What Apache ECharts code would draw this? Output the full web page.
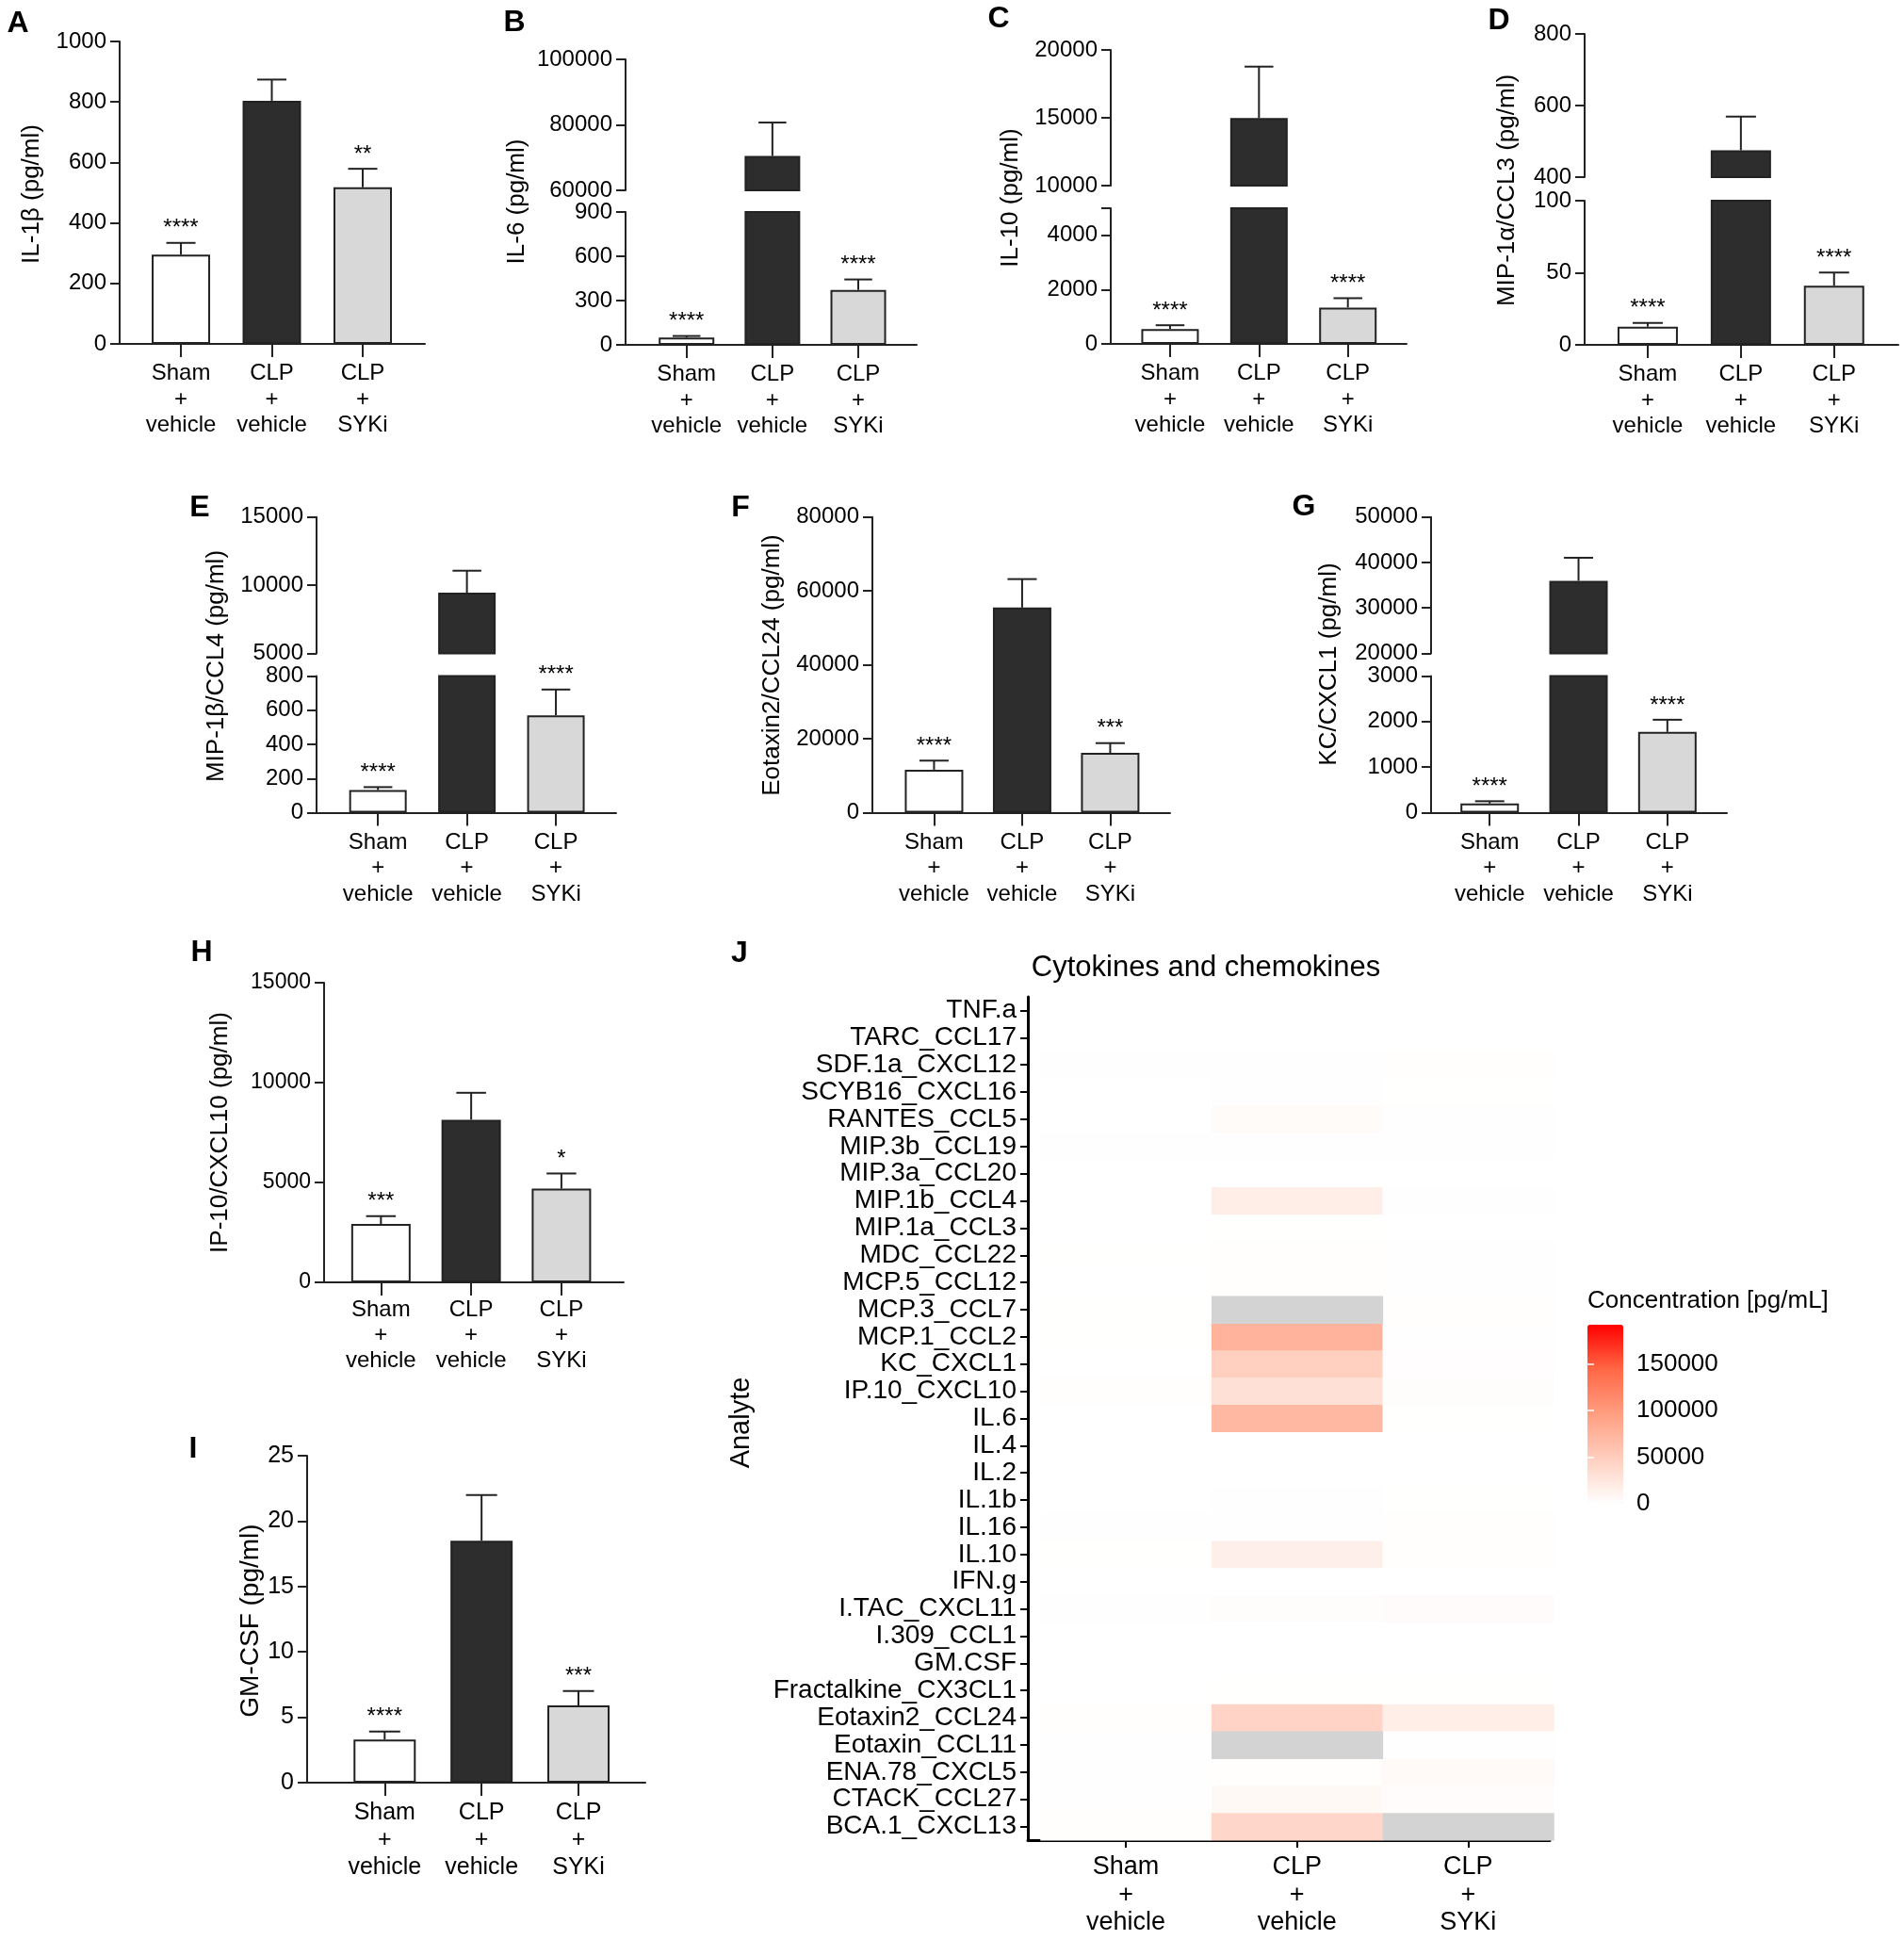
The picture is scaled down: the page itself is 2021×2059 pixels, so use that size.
<!DOCTYPE html>
<html><head><meta charset="utf-8">
<script src="https://cdn.jsdelivr.net/npm/echarts@6/dist/echarts.min.js"></script>
<style>html,body{margin:0;padding:0;background:#fff}#c{width:2021px;height:2059px}</style>
</head><body><div id="c"></div>
<script>
// ---------------- DATA ----------------
const groups = ['Sham\n+\nvehicle', 'CLP\n+\nvehicle', 'CLP\n+\nSYKi'];

// bar panels: mean, mean+SEM (upper whisker end), significance
const il1bMean = [295, 804, 518];      const il1bUpper = [334, 874, 579];      const il1bSig = ['****', '', '**'];
const il6Mean = [49, 70500, 372];      const il6Upper = [60, 80700, 443];      const il6Sig = ['****', '', '****'];
const il10Mean = [550, 14980, 1340];   const il10Upper = [688, 18770, 1685];   const il10Sig = ['****', '', '****'];
const ccl3Mean = [12.6, 475, 41];      const ccl3Upper = [15.2, 569, 50.2];    const ccl3Sig = ['****', '', '****'];
const ccl4Mean = [133, 9450, 570];     const ccl4Upper = [150, 11060, 721];    const ccl4Sig = ['****', '', '****'];
const ccl24Mean = [11650, 55500, 16200]; const ccl24Upper = [14100, 63200, 18830]; const ccl24Sig = ['****', '', '***'];
const cxcl1Mean = [205, 35960, 1774];  const cxcl1Upper = [253, 41030, 2041];  const cxcl1Sig = ['****', '', '****'];
const cxcl10Mean = [2920, 8140, 4690]; const cxcl10Upper = [3315, 9490, 5450]; const cxcl10Sig = ['***', '', '*'];
const gmcsfMean = [3.3, 18.5, 5.9];    const gmcsfUpper = [3.9, 22.0, 7.0];    const gmcsfSig = ['****', '', '***'];

// heatmap (top to bottom), null = not available (grey)
const analytes = ['TNF.a', 'TARC_CCL17', 'SDF.1a_CXCL12', 'SCYB16_CXCL16', 'RANTES_CCL5', 'MIP.3b_CCL19',
  'MIP.3a_CCL20', 'MIP.1b_CCL4', 'MIP.1a_CCL3', 'MDC_CCL22', 'MCP.5_CCL12', 'MCP.3_CCL7', 'MCP.1_CCL2',
  'KC_CXCL1', 'IP.10_CXCL10', 'IL.6', 'IL.4', 'IL.2', 'IL.1b', 'IL.16', 'IL.10', 'IFN.g', 'I.TAC_CXCL11',
  'I.309_CCL1', 'GM.CSF', 'Fractalkine_CX3CL1', 'Eotaxin2_CCL24', 'Eotaxin_CCL11', 'ENA.78_CXCL5',
  'CTACK_CCL27', 'BCA.1_CXCL13'];
const hmSham = [50, 100, 600, 300, 300, 900, 50, 150, 20, 400, 300, 400, 500, 200, 1200, 50, 20, 20, 300, 600,
  500, 20, 800, 200, 5, 300, 1500, 700, 900, 900, 1200];
const hmClp = [300, 200, 700, 600, 4500, 900, 300, 17000, 500, 1500, 1500, null, 75000, 47000, 31000, 71000, 50, 50,
  800, 800, 16000, 100, 2000, 300, 20, 500, 43000, null, 1500, 6500, 40000];
const hmSyki = [80, 150, 1200, 500, 600, 1000, 100, 600, 40, 600, 700, 1500, 700, 1800, 2500, 400, 20, 20, 500,
  1200, 1300, 30, 4000, 250, 6, 400, 17000, 700, 6000, 3000, null];
const legendBreaks = [0, 50000, 100000, 150000];
const legendMax = 192000;

// ---------------- BUILD ----------------
const FONT = '"Liberation Sans", Arial, Helvetica, sans-serif';
const INK = '#222222';
const barFill = ['#ffffff', '#2d2d2d', '#d8d8d8'];
const plain = function (v) { return String(v); };
const groupIdx = groups.map(function (g, i) { return i; });
const analyteIdx = analytes.map(function (a, i) { return i; });
const grid = [], xAxis = [], yAxis = [], series = [], graphic = [];

function txt(text, x, y, size, opts) {
  opts = opts || {};
  graphic.push({
    type: 'text', x: x, y: y, rotation: opts.rot || 0, silent: true,
    style: { text: text, fontFamily: FONT, fontSize: size, fontWeight: opts.bold ? 'bold' : 'normal',
      fill: '#000', align: opts.align || 'center', verticalAlign: 'middle' }
  });
}

function addBarPanel(p) {
  txt(p.letter, p.letterPos[0], p.letterPos[1], 32, { bold: true });
  txt(p.title, p.titlePos[0], p.titlePos[1], p.titleSize, { rot: Math.PI / 2 });
  p.segs.forEach(function (s, si) {
    const gi = grid.length;
    grid.push({ left: p.left, top: s.top, width: p.right - p.left, height: s.bottom - s.top });
    xAxis.push({
      type: 'value', gridIndex: gi, min: -p.pad[0], max: groups.length - 1 + p.pad[1], show: si === 0,
      axisLine: { onZero: false, lineStyle: { color: INK, width: 2 } },
      axisTick: { length: 14, customValues: groupIdx, lineStyle: { color: INK, width: 2 } },
      axisLabel: { customValues: groupIdx, formatter: function (v) { return groups[v]; },
        color: '#000', fontFamily: FONT, fontSize: p.catFont, lineHeight: p.catLine, margin: p.catMargin },
      splitLine: { show: false }
    });
    const ya = {
      type: 'value', gridIndex: gi, min: s.min, max: s.max, interval: s.interval,
      axisLine: { show: true, onZero: false, lineStyle: { color: INK, width: 2 } },
      axisTick: { show: true, length: 10, lineStyle: { color: INK, width: 2 } },
      axisLabel: { color: '#000', fontFamily: FONT, fontSize: p.tickFont, margin: 14, formatter: plain },
      splitLine: { show: false }
    };
    if (s.ticks) ya.axisTick.customValues = s.ticks;
    if (s.labels) ya.axisLabel.customValues = s.labels;
    yAxis.push(ya);

    const barData = [];
    p.mean.forEach(function (v, i) {
      if (si > 0 && v <= s.min) return;
      barData.push({ value: [i, v], itemStyle: { color: barFill[i] } });
    });
    series.push({
      type: 'bar', xAxisIndex: gi, yAxisIndex: gi, data: barData, barWidth: p.barWidth, clip: true,
      silent: true, itemStyle: { borderColor: INK, borderWidth: 2 }
    });
    const errData = [];
    p.mean.forEach(function (v, i) {
      if (v >= s.min && v <= s.max) errData.push([i, v, p.upper[i]]);
    });
    const cap = p.barWidth * 0.5;
    const sig = p.sig;
    series.push({
      type: 'custom', xAxisIndex: gi, yAxisIndex: gi, data: errData, silent: true,
      encode: { x: 0, y: 1 },
      renderItem: function (params, api) {
        const idx = api.value(0);
        const p0 = api.coord([idx, api.value(1)]);
        const p1 = api.coord([idx, api.value(2)]);
        const children = [
          { type: 'line', shape: { x1: p0[0], y1: p0[1], x2: p1[0], y2: p1[1] }, style: { stroke: INK, lineWidth: 2 } },
          { type: 'line', shape: { x1: p1[0] - cap / 2, y1: p1[1], x2: p1[0] + cap / 2, y2: p1[1] }, style: { stroke: INK, lineWidth: 2 } }
        ];
        if (sig[idx]) {
          children.push({ type: 'text', x: p1[0], y: p1[1] - 15,
            style: { text: sig[idx], fontFamily: FONT, fontSize: 24, fill: '#000', align: 'center', verticalAlign: 'middle' } });
        }
        return { type: 'group', children: children };
      }
    });
  });
}

const std = { tickFont: 24, catFont: 24, catLine: 27.5, catMargin: 18, titleSize: 26 };
function P(o) { return Object.assign({}, std, o); }

addBarPanel(P({ letter: 'A', letterPos: [19, 25], title: 'IL-1β (pg/ml)', titlePos: [34, 206], left: 127, right: 451, pad: [0.674, 0.684], barWidth: 62,
  segs: [{ top: 44, bottom: 365, min: 0, max: 1000, interval: 200 }], mean: il1bMean, upper: il1bUpper, sig: il1bSig }));
addBarPanel(P({ letter: 'B', letterPos: [546, 24], title: 'IL-6 (pg/ml)', titlePos: [549, 214], left: 664, right: 973, pad: [0.71, 0.68], barWidth: 59,
  segs: [{ top: 225, bottom: 366, min: 0, max: 900, interval: 300 }, { top: 63, bottom: 202, min: 60000, max: 100000, interval: 20000 }],
  mean: il6Mean, upper: il6Upper, sig: il6Sig }));
addBarPanel(P({ letter: 'C', letterPos: [1060, 20], title: 'IL-10 (pg/ml)', titlePos: [1073, 210], left: 1179, right: 1493, pad: [0.667, 0.66], barWidth: 61,
  segs: [{ top: 221, bottom: 365, min: 0, max: 5000, interval: 1000, ticks: [0, 2000, 4000, 5000], labels: [0, 2000, 4000] },
         { top: 53, bottom: 197, min: 10000, max: 20000, interval: 5000 }],
  mean: il10Mean, upper: il10Upper, sig: il10Sig }));
addBarPanel(P({ letter: 'D', letterPos: [1591, 22], title: 'MIP-1α/CCL3 (pg/ml)', titlePos: [1600, 202], left: 1682, right: 2015, pad: [0.677, 0.69], barWidth: 64,
  segs: [{ top: 213, bottom: 366, min: 0, max: 100, interval: 50 }, { top: 36, bottom: 188, min: 400, max: 800, interval: 200 }],
  mean: ccl3Mean, upper: ccl3Upper, sig: ccl3Sig }));
addBarPanel(P({ letter: 'E', letterPos: [212, 539], title: 'MIP-1β/CCL4 (pg/ml)', titlePos: [230, 707], left: 336, right: 654, pad: [0.69, 0.677], barWidth: 61,
  segs: [{ top: 717.5, bottom: 862.6, min: 0, max: 800, interval: 200 }, { top: 548.7, bottom: 693.4, min: 5000, max: 15000, interval: 5000 }],
  mean: ccl4Mean, upper: ccl4Upper, sig: ccl4Sig }));
addBarPanel(P({ letter: 'F', letterPos: [786, 539], title: 'Eotaxin2/CCL24 (pg/ml)', titlePos: [820, 706], left: 926, right: 1242, pad: [0.7, 0.68], barWidth: 62,
  segs: [{ top: 548.7, bottom: 862.6, min: 0, max: 80000, interval: 20000 }],
  mean: ccl24Mean, upper: ccl24Upper, sig: ccl24Sig }));
addBarPanel(P({ letter: 'G', letterPos: [1384, 538], title: 'KC/CXCL1 (pg/ml)', titlePos: [1411, 705], left: 1519, right: 1833, pad: [0.66, 0.67], barWidth: 62,
  segs: [{ top: 717.5, bottom: 862.6, min: 0, max: 3000, interval: 1000 }, { top: 548.7, bottom: 693.4, min: 20000, max: 50000, interval: 10000 }],
  mean: cxcl1Mean, upper: cxcl1Upper, sig: cxcl1Sig }));
addBarPanel(P({ letter: 'H', letterPos: [214, 1011], title: 'IP-10/CXCL10 (pg/ml)', titlePos: [234, 1202], left: 344, right: 662, pad: [0.63, 0.69], barWidth: 63,
  tickFont: 23, catLine: 27, catMargin: 16,
  segs: [{ top: 1043, bottom: 1361, min: 0, max: 15000, interval: 5000 }],
  mean: cxcl10Mean, upper: cxcl10Upper, sig: cxcl10Sig }));
addBarPanel(P({ letter: 'I', letterPos: [205, 1538], title: 'GM-CSF (pg/ml)', titlePos: [266, 1720], left: 326, right: 685, pad: [0.8, 0.69], barWidth: 66,
  tickFont: 25, catFont: 25, catLine: 29, catMargin: 18, titleSize: 28,
  segs: [{ top: 1545, bottom: 1892, min: 0, max: 25, interval: 5 }],
  mean: gmcsfMean, upper: gmcsfUpper, sig: gmcsfSig }));

// ---------------- HEATMAP (J) ----------------
txt('J', 785, 1012, 32, { bold: true });
txt('Cytokines and chemokines', 1280, 1027, 31);
txt('Analyte', 787, 1510, 29, { rot: Math.PI / 2 });
txt('Concentration [pg/mL]', 1685, 1381, 26, { align: 'left' });

const hg = grid.length;
grid.push({ left: 1091, top: 1058, width: 554, height: 895 });
xAxis.push({
  type: 'value', gridIndex: hg, min: -0.573, max: 2.477,
  axisLine: { onZero: false, lineStyle: { color: '#000', width: 3 } },
  axisTick: { length: 8, customValues: groupIdx, lineStyle: { color: '#000', width: 2 } },
  axisLabel: { customValues: groupIdx, formatter: function (v) { return groups[v]; },
    color: '#000', fontFamily: FONT, fontSize: 27, lineHeight: 29.5, margin: 14 },
  splitLine: { show: false }
});
yAxis.push({
  type: 'value', gridIndex: hg, min: -0.5, max: analytes.length - 0.5, inverse: true,
  axisLine: { onZero: false, lineStyle: { color: '#000', width: 3 } },
  axisTick: { length: 8, customValues: analyteIdx, lineStyle: { color: '#000', width: 2 } },
  axisLabel: { customValues: analyteIdx, formatter: function (v) { return analytes[v]; },
    color: '#000', fontFamily: FONT, fontSize: 28, margin: 12 },
  splitLine: { show: false }
});
const cols = [hmSham, hmClp, hmSyki];
const hmData = [], naData = [];
cols.forEach(function (col, ci) {
  col.forEach(function (v, ri) {
    if (v === null) naData.push([ci, ri, 0]); else hmData.push([ci, ri, v]);
  });
});
function cellRenderer(fillOf) {
  return function (params, api) {
    const x = api.value(0), y = api.value(1);
    const a = api.coord([x - 0.5, y - 0.5]), b = api.coord([x + 0.5, y + 0.5]);
    return { type: 'rect',
      shape: { x: Math.min(a[0], b[0]), y: Math.min(a[1], b[1]), width: Math.abs(b[0] - a[0]) + 0.6, height: Math.abs(b[1] - a[1]) + 0.6 },
      style: { fill: fillOf(api) } };
  };
}
const hmIndex = series.length;
series.push({ type: 'custom', xAxisIndex: hg, yAxisIndex: hg, data: hmData, silent: true, z: 1,
  encode: { x: 0, y: 1 }, renderItem: cellRenderer(function (api) { return api.visual('color'); }) });
series.push({ type: 'custom', xAxisIndex: hg, yAxisIndex: hg, data: naData, silent: true, z: 1,
  encode: { x: 0, y: 1 }, renderItem: cellRenderer(function () { return '#d3d3d3'; }) });

// colour bar axis (labels for the visualMap)
const lg = grid.length;
grid.push({ left: 1685, top: 1406, width: 38, height: 190 });
xAxis.push({ type: 'value', gridIndex: lg, show: false });
[['right', true], ['left', false]].forEach(function (cfg) {
  yAxis.push({
    type: 'value', gridIndex: lg, min: 0, max: legendMax, position: cfg[0], z: 10,
    axisLine: { show: false },
    axisTick: { show: true, inside: true, length: 7, customValues: legendBreaks, lineStyle: { color: '#ffffff', width: 1.5 } },
    axisLabel: { show: cfg[1], customValues: legendBreaks, color: '#000', fontFamily: FONT, fontSize: 26, margin: 14, formatter: plain },
    splitLine: { show: false }
  });
});

const option = {
  animation: false,
  backgroundColor: '#ffffff',
  textStyle: { fontFamily: FONT },
  grid: grid, xAxis: xAxis, yAxis: yAxis, series: series, graphic: graphic,
  visualMap: {
    type: 'continuous', seriesIndex: hmIndex, dimension: 2, min: 0, max: legendMax,
    calculable: false, hoverLink: false, realtime: false, padding: 0,
    left: 1685, top: 1406, itemWidth: 38, itemHeight: 190, text: null,
    inRange: { color: ['#ffffff', '#ffcfbf', '#ff9e81', '#ff6846', '#ff0000'] }
  }
};
const chart = echarts.init(document.getElementById('c'), null, { renderer: 'canvas', width: 2021, height: 2059 });
chart.setOption(option);
</script>
</body></html>
